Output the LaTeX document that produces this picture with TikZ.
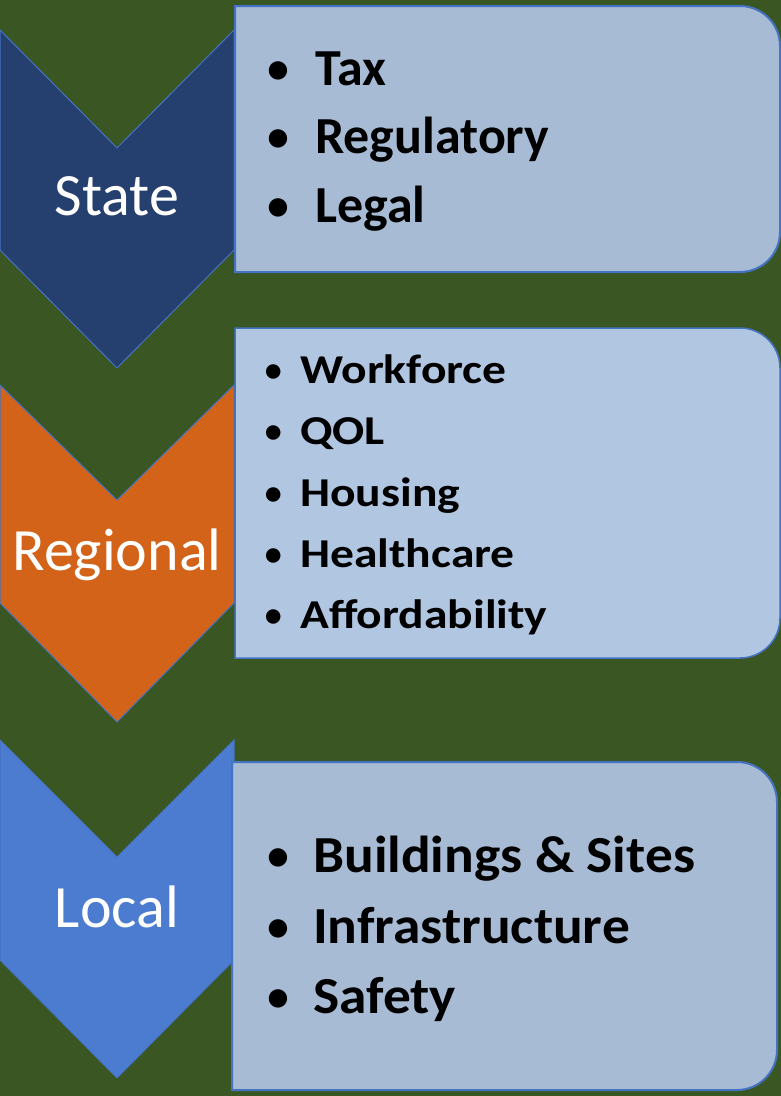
\documentclass[tikz,border=0pt]{standalone}
\usepackage{fontspec}
\setmainfont{Carlito}
\newfontfamily\wideb[FakeStretch=1.16]{Carlito}
\newfontfamily\widec[FakeStretch=1.065]{Carlito}
\definecolor{bgcol}{RGB}{58,87,35}
\definecolor{statecol}{RGB}{37,63,110}
\definecolor{regcol}{RGB}{212,99,26}
\definecolor{localcol}{RGB}{76,124,208}
\definecolor{panelcol}{RGB}{168,187,212}
\definecolor{panelcolb}{RGB}{177,198,224}
\definecolor{edgecol}{RGB}{68,114,196}

\begin{document}
\begin{tikzpicture}[x=1pt, y=-1pt,
        chev/.style={draw=edgecol, line width=1pt, line join=miter},
        panel/.style={draw=edgecol, line width=2pt},
        lvl/.style={font={\fontsize{60}{60}\selectfont}, white, anchor=base, inner sep=0pt},
        bigitem/.style={font={\fontsize{52}{52}\selectfont\bfseries}, black, anchor=base west, inner sep=0pt},
        lowitem/.style={font={\widec\fontsize{52}{52}\selectfont\bfseries}, black, anchor=base west, inner sep=0pt},
        smallitem/.style={font={\wideb\fontsize{41}{41}\selectfont\bfseries}, black, anchor=base west, inner sep=0pt},
        bigdot/.style={font={\fontsize{52}{52}\selectfont}, black, anchor=base, inner sep=0pt},
        smalldot/.style={font={\fontsize{41}{41}\selectfont}, black, anchor=base, inner sep=0pt}]
        \useasboundingbox (0,0) rectangle (781,1096);
        \fill[bgcol] (0,0) rectangle (781,1096);

        % chevrons
        \draw[chev, fill=statecol] (0,30) -- (117,148) -- (234,30) -- (234,250) -- (117,368) -- (0,250) -- cycle;
        \draw[chev, fill=regcol] (0,385) -- (117,500) -- (234,385) -- (234,603) -- (117,722) -- (0,603) -- cycle;
        \draw[chev, fill=localcol] (0,740) -- (117,857) -- (234,740) -- (234,960) -- (117,1078) -- (0,960) -- cycle;

        \node[lvl] (state) at (117,215) {State};
        \node[lvl] (regional) at (117,570) {Regional};
        \node[lvl] (local) at (117,927) {Local};

        % panels
        \draw[panel, fill=panelcol] (235,6) -- (740,6) arc[start angle=-90, end angle=0, radius=40]
            -- (780,232) arc[start angle=0, end angle=90, radius=40] -- (235,272) -- cycle;
        \draw[panel, line width=1.5pt, fill=panelcolb] (235,328) -- (740,328) arc[start angle=-90, end angle=0, radius=40]
            -- (780,618) arc[start angle=0, end angle=90, radius=40] -- (235,658) -- cycle;
        \draw[panel, fill=panelcol] (232,762) -- (737,762) arc[start angle=-90, end angle=0, radius=40]
            -- (777,1050) arc[start angle=0, end angle=90, radius=40] -- (232,1090) -- cycle;

        % state items
        \node[bigdot] (b1) at (278,85) {•};
        \node[bigitem] (tax) at (315,85) {Tax};
        \node[bigdot] (b2) at (278,153) {•};
        \node[bigitem] (regulatory) at (315,153) {Regulatory};
        \node[bigdot] (b3) at (278,222) {•};
        \node[bigitem] (legal) at (315,222) {Legal};

        % regional items
        \node[smalldot] (b4) at (274,383) {•};
        \node[smallitem] (workforce) at (300,383) {Workforce};
        \node[smalldot] (b5) at (274,444) {•};
        \node[smallitem] (qol) at (300,444) {QOL};
        \node[smalldot] (b6) at (274,506) {•};
        \node[smallitem] (housing) at (300,506) {Housing};
        \node[smalldot] (b7) at (274,567) {•};
        \node[smallitem] (healthcare) at (300,567) {Healthcare};
        \node[smalldot] (b8) at (274,628) {•};
        \node[smallitem] (afford) at (300,628) {Affordability};

        % local items
        \node[bigdot] (b9) at (278,872) {•};
        \node[lowitem] (buildings) at (313,872) {Buildings \& Sites};
        \node[bigdot] (b10) at (278,943) {•};
        \node[lowitem] (infra) at (313,943) {Infrastructure};
        \node[bigdot] (b11) at (278,1013) {•};
        \node[lowitem] (safety) at (313,1013) {Safety};
    \end{tikzpicture}
\end{document}
